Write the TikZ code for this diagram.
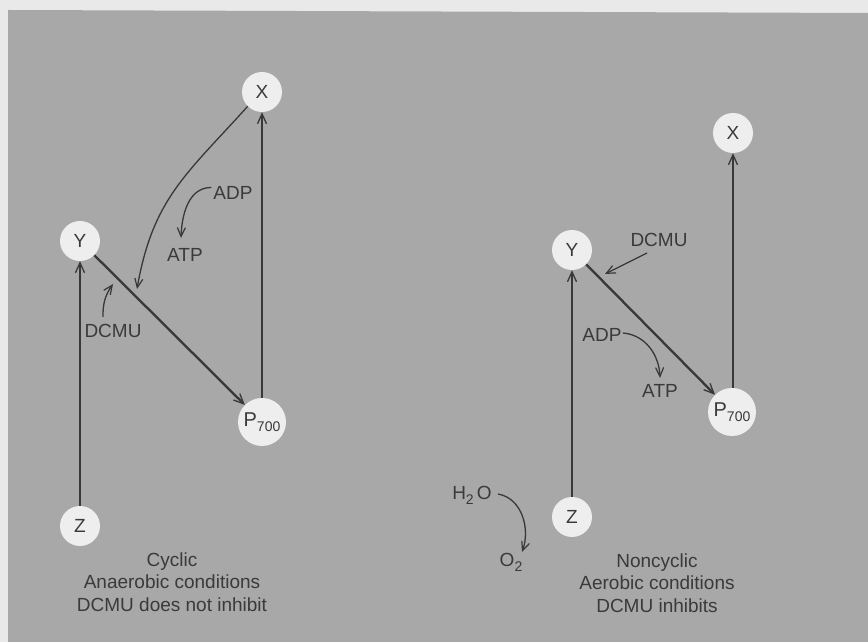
\documentclass[tikz,border=0pt]{standalone}
\usepackage{fontspec}
\setmainfont{Liberation Sans}
\usetikzlibrary{arrows.meta}
\definecolor{paper}{HTML}{E9E9E9}
\definecolor{panel}{HTML}{A8A8A8}
\definecolor{disc}{HTML}{EEEEEE}
\definecolor{ink}{HTML}{383838}
\definecolor{txt}{HTML}{3A3A3A}
\newcommand{\lowidx}[1]{\raisebox{-4.5pt}{\fontsize{14}{14}\selectfont #1}}
\begin{document}
\begin{tikzpicture}[x=1pt,y=1pt,
  carrier/.style={circle,fill=disc,inner sep=0pt,minimum size=40pt,text=txt,
    font=\fontsize{19}{20}\selectfont},
  pcarrier/.style={carrier,minimum size=48pt,font=\fontsize{20}{21}\selectfont},
  lbl/.style={text=txt,inner sep=0pt,anchor=base,font=\fontsize{19}{21}\selectfont},
  caption/.style={text=txt,inner sep=0pt,align=center,
    font=\fontsize{19}{22.5}\selectfont},
  flow/.style={draw=ink,line width=1.5pt,-{Straight Barb[length=10pt,width=9pt,line width=1.3pt]}},
  mainflow/.style={flow,line width=2.3pt},
  side/.style={draw=ink,line width=1.3pt,-{Straight Barb[length=9pt,width=8pt,line width=1.2pt]}}]
\useasboundingbox (0,0) rectangle (868,642);
\fill[paper] (0,0) rectangle (868,642);
\fill[panel] (8,0) -- (8,632) -- (868,629) -- (868,0) -- cycle;

% ---- cyclic pathway ----
\node[carrier]  (xl) at (262,550) {X};
\node[carrier]  (yl) at (80,401) {Y};
\node[carrier]  (zl) at (80,116) {Z};
\node[pcarrier] (pl) at (262,220) {P\lowidx{700}};
\coordinate (xin) at (137,353);

\draw[flow] (zl) -- (yl);
\draw[mainflow] (yl) -- (pl);
\draw[flow] (pl) -- (xl);
\draw[side] (xl.225) to[out=228,in=80,looseness=1.1] (xin);

\node[lbl] (adpl) at (233,442) {ADP};
\node[lbl] (atpl) at (185,380) {ATP};
\node[lbl] (dcmul) at (113,304) {DCMU};
\coordinate (dcmulstart) at (103,325);
\coordinate (dcmultip) at (113,358);
\coordinate (atpltip) at (181,404);
\draw[side] (adpl.west) ++(-2,6) to[out=180,in=88] (atpltip);
\draw[side] (dcmulstart) to[bend left=18] (dcmultip);

\node[caption] (capl) at (172,60) {Cyclic\\Anaerobic conditions\\DCMU does not inhibit};

% ---- noncyclic pathway ----
\node[carrier]  (xr) at (733,509) {X};
\node[carrier]  (yr) at (572,392) {Y};
\node[carrier]  (zr) at (572,125) {Z};
\node[pcarrier] (pr) at (732,230) {P\lowidx{700}};

\draw[flow] (zr) -- (yr);
\draw[mainflow] (yr) -- (pr);
\draw[flow] (pr.north -| xr) -- (xr);

\node[lbl] (dcmur) at (659,395) {DCMU};
\node[lbl] (adpr) at (602,300) {ADP};
\node[lbl] (atpr) at (660,244) {ATP};
\node[lbl] (h2o) at (472,142) {H\lowidx{2}\,O};
\node[lbl] (o2) at (511,75) {O\lowidx{2}};
\coordinate (dcmurstart) at (647,389);
\coordinate (dcmurtip) at (605,368);
\coordinate (adprstart) at (623,309);
\coordinate (atprtip) at (660,264);
\coordinate (h2ostart) at (498,148);
\coordinate (o2tip) at (522,90);
\draw[side] (dcmurstart) -- (dcmurtip);
\draw[side] (adprstart) to[out=-5,in=92] (atprtip);
\draw[side] (h2ostart) to[out=-10,in=70] (o2tip);

\node[caption] (capr) at (657,59) {Noncyclic\\Aerobic conditions\\DCMU inhibits};
\end{tikzpicture}
\end{document}
